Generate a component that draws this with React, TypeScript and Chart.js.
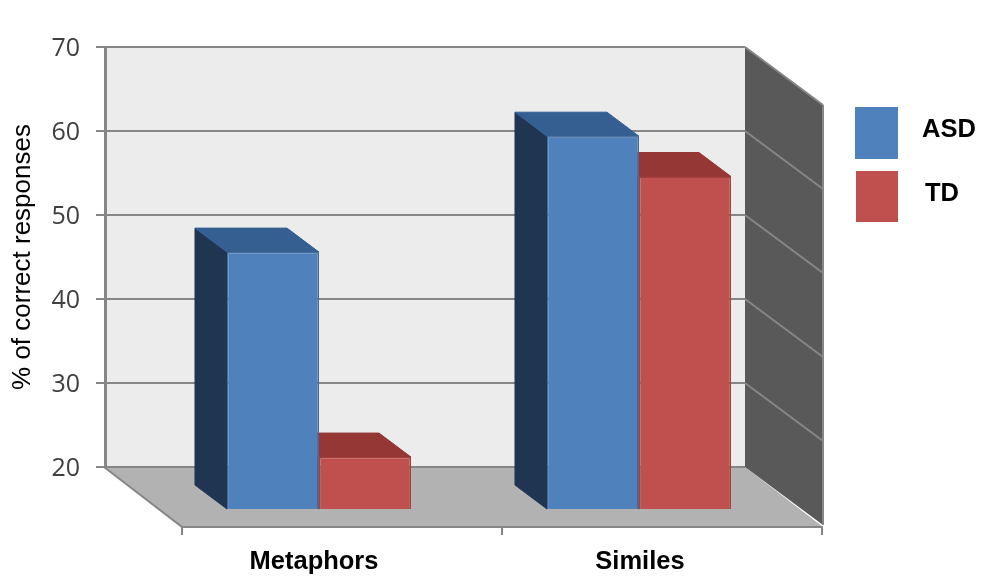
import React, { useEffect, useRef } from "react";
import { Chart, registerables } from "chart.js";

Chart.register(...registerables);

const categories = ["Metaphors", "Similes"];
const asdValues = [50.7, 64.5];
const tdValues = [26.3, 59.7];
const yTicks = [20, 30, 40, 50, 60, 70];
const yTitle = "% of correct responses";
const labelCentres = [314, 640];
const yBase = 20;

const LINE = "#868686";
const WALL = "#ececec";
const FLOOR = "#b2b2b2";
const SIDE = "#595959";
const BAR_DX = 54;
const BAR_DY = 43;
const DEPTH_X = 32;
const DEPTH_Y = 24;
const FRONT_DX = 78;
const FRONT_DY = 60;
const SIDE_DY = 58;

const faces = [
  { top: "#365f91", side: "#1f3551" },
  { top: "#953735", side: "#632523" },
];

function poly(ctx: any, pts: number[][], fill?: string, stroke?: string, lw = 1) {
  ctx.beginPath();
  pts.forEach((p, i) => (i ? ctx.lineTo(p[0], p[1]) : ctx.moveTo(p[0], p[1])));
  ctx.closePath();
  if (fill) {
    ctx.fillStyle = fill;
    ctx.fill();
  }
  if (stroke) {
    ctx.strokeStyle = stroke;
    ctx.lineWidth = lw;
    ctx.stroke();
  }
}

const scene3d = {
  id: "scene3d",
  afterLayout(chart: any) {
    const x = chart.scales.x;
    x.getLabelItems().forEach((item: any, i: number) => {
      item.options.translation[0] = labelCentres[i];
    });
  },
  beforeDraw(chart: any) {
    const { ctx, chartArea: a, scales } = chart;
    ctx.save();
    poly(ctx, [[a.left, a.top], [a.right, a.top], [a.right, a.bottom], [a.left, a.bottom]], WALL);
    poly(
      ctx,
      [
        [a.left, a.bottom],
        [a.right, a.bottom],
        [a.right + FRONT_DX, a.bottom + FRONT_DY],
        [a.left + FRONT_DX - 1, a.bottom + FRONT_DY],
      ],
      FLOOR
    );
    poly(
      ctx,
      [
        [a.right, a.top],
        [a.right + FRONT_DX, a.top + SIDE_DY],
        [a.right + FRONT_DX, a.bottom + SIDE_DY],
        [a.right, a.bottom],
      ],
      SIDE
    );
    // side-wall grid lines follow the y scale
    ctx.strokeStyle = LINE;
    ctx.lineWidth = 2;
    scales.y.ticks.forEach((t: any) => {
      if (t.value === yBase) return;
      const y = scales.y.getPixelForValue(t.value);
      ctx.beginPath();
      ctx.moveTo(a.right, y);
      ctx.lineTo(a.right + FRONT_DX, y + SIDE_DY);
      ctx.stroke();
    });
    ctx.beginPath();
    ctx.moveTo(a.right + FRONT_DX, a.top + SIDE_DY);
    ctx.lineTo(a.right + FRONT_DX, a.bottom + SIDE_DY);
    ctx.stroke();
    // floor edges
    ctx.beginPath();
    ctx.moveTo(a.left - 1, a.bottom);
    ctx.lineTo(a.left + FRONT_DX - 1, a.bottom + FRONT_DY);
    ctx.lineTo(a.right + FRONT_DX, a.bottom + FRONT_DY);
    ctx.stroke();
    // front tick marks at the category boundaries
    const band = (a.right - a.left) / categories.length;
    for (let i = 0; i <= categories.length; i++) {
      const px = a.left + FRONT_DX - 1 + band * i;
      ctx.beginPath();
      ctx.moveTo(px, a.bottom + FRONT_DY);
      ctx.lineTo(px, a.bottom + FRONT_DY + 8);
      ctx.stroke();
    }
    ctx.restore();
  },
  beforeDatasetDraw(chart: any, args: any) {
    const { ctx } = chart;
    const f = faces[args.index];
    ctx.save();
    ctx.translate(BAR_DX, BAR_DY);
    args.meta.data.forEach((bar: any) => {
      const p = bar.getProps(["x", "y", "base", "width"], true);
      const l = p.x - p.width / 2;
      const r = p.x + p.width / 2;
      poly(ctx, [[l, p.y], [l, p.base], [l - DEPTH_X, p.base - DEPTH_Y], [l - DEPTH_X, p.y - DEPTH_Y]], f.side, f.side);
      poly(ctx, [[l, p.y], [r, p.y], [r - DEPTH_X, p.y - DEPTH_Y], [l - DEPTH_X, p.y - DEPTH_Y]], f.top, f.top);
    });
  },
  afterDatasetDraw(chart: any) {
    chart.ctx.restore();
  },
  afterDraw(chart: any) {
    const { ctx } = chart;
    ctx.save();
    chart.data.datasets.forEach((d: any, i: number) => {
      const box = i === 0 ? [855, 107, 43, 52] : [856, 171, 42, 51];
      ctx.fillStyle = d.backgroundColor;
      ctx.fillRect(box[0], box[1], box[2], box[3]);
      ctx.fillStyle = "#000000";
      ctx.font = 'bold 25.5px "Liberation Sans"';
      ctx.textAlign = "left";
      ctx.textBaseline = "middle";
      ctx.fillText(d.label, i === 0 ? 922 : 925, i === 0 ? 130 : 194);
    });
    ctx.restore();
  },
};

export default function App() {
  const ref = useRef<HTMLCanvasElement>(null);
  useEffect(() => {
    const chart = new Chart(ref.current as HTMLCanvasElement, {
      type: "bar",
      data: {
        labels: categories,
        datasets: [
          {
            label: "ASD",
            data: asdValues,
            base: yBase,
            backgroundColor: "#4f81bd",
            borderColor: "#3f6c9f",
            borderWidth: 1.5,
            clip: false as any,
          },
          {
            label: "TD",
            data: tdValues,
            base: yBase,
            backgroundColor: "#c0504d",
            borderColor: "#a33f3c",
            borderWidth: 1.5,
            clip: false as any,
          },
        ],
      },
      options: {
        responsive: false,
        animation: false,
        devicePixelRatio: 1,
        layout: { padding: { top: 47, right: 240, left: 0, bottom: 0 } },
        datasets: { bar: { barPercentage: 1, categoryPercentage: 0.575 } },
        plugins: { legend: { display: false }, tooltip: { enabled: false } },
        scales: {
          x: {
            grid: { display: false },
            border: { display: false },
            afterFit(s: any) {
              s.height = 121;
            },
            ticks: {
              padding: 72,
              maxRotation: 0,
              color: "#000000",
              font: { family: '"Liberation Sans"', size: 25.5, weight: "bold" },
            },
          },
          y: {
            min: yBase,
            max: 70,
            afterFit(s: any) {
              s.width = 105;
            },
            afterBuildTicks(s: any) {
              s.ticks = yTicks.map((value) => ({ value }));
            },
            grid: { color: LINE, lineWidth: 2, tickLength: 9, tickColor: LINE },
            border: { color: LINE, width: 3 },
            ticks: {
              padding: 16,
              labelOffset: 2,
              color: "#404040",
              font: { family: '"Open Sans"', size: 25 },
            },
            title: {
              display: true,
              text: yTitle,
              color: "#000000",
              padding: { top: 7, bottom: 0 },
              font: { family: '"Liberation Sans"', size: 26 },
            },
          },
        },
      },
      plugins: [scene3d],
    } as any);
    return () => chart.destroy();
  }, []);
  return (
    <div style={{ position: "fixed", left: 0, top: 0, width: 985, height: 588, background: "#ffffff" }}>
      <canvas ref={ref} width={985} height={588} style={{ display: "block" }} />
    </div>
  );
}
